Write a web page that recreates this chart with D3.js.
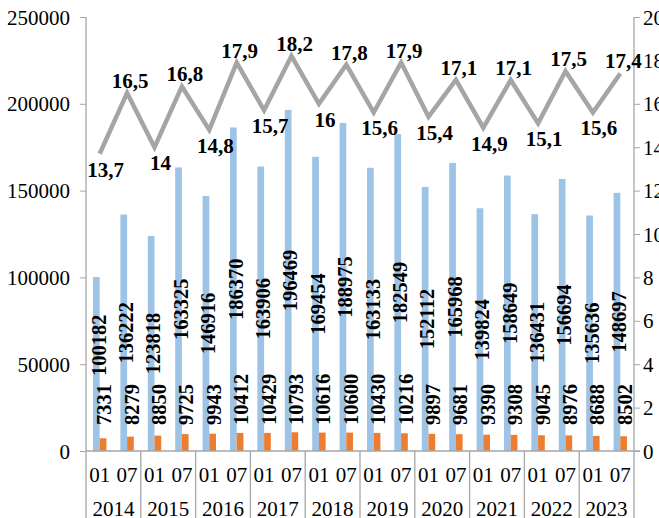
<!DOCTYPE html>
<html>
<head>
<meta charset="utf-8">
<script src="https://cdn.jsdelivr.net/npm/d3@7"></script>
<style>
  html, body { margin: 0; padding: 0; background: #fff; }
  svg { display: block; }
</style>
</head>
<body>
<svg id="chart" width="659" height="518"></svg>
<script>
const years = ["2014","2015","2016","2017","2018","2019","2020","2021","2022","2023"];
const months = ["01","07"];
const blueValues = [100182,136222,123818,163325,146916,186370,163906,196469,169454,188975,163133,182549,152112,165968,139824,158649,136431,156694,135636,148697];
const orangeValues = [7331,8279,8850,9725,9943,10412,10429,10793,10616,10600,10430,10216,9897,9681,9390,9308,9045,8976,8688,8502];
const lineValues = [13.7,16.5,14,16.8,14.8,17.9,15.7,18.2,16,17.8,15.6,17.9,15.4,17.1,14.9,17.1,15.1,17.5,15.6,17.4];
const leftTicks = [0,50000,100000,150000,200000,250000];
const rightTicks = [0,2,4,6,8,10,12,14,16,18,20];

const categories = [];
years.forEach(y => months.forEach(m => categories.push({year: y, month: m})));

const FONT = "'Liberation Serif', 'Times New Roman', Times, serif";
const svg = d3.select("#chart").attr("font-family", FONT);
const L = 86, R = 634, T = 17, B = 451, H = 518;
const axisColor = "#a6a6a6";
const fs = 21;
const fsBar = 20.5;

function styleText(sel, bold, size) {
  sel.style("font-family", FONT).style("font-size", (size || fs) + "px").style("fill", "#000")
     .style("font-weight", bold ? "bold" : "normal");
  return sel;
}

const x = d3.scaleBand().domain(d3.range(categories.length)).range([L, R]).padding(0);
const bw = x.bandwidth();
const x1 = d3.scaleBand().domain(["b","o"]).range([bw * 0.255, bw * 0.745]).padding(0);
const yL = d3.scaleLinear().domain([0, 250000]).range([B, T]);
const yR = d3.scaleLinear().domain([0, 20]).range([B, T]);

// Bars
svg.append("g").selectAll("rect").data(blueValues).join("rect")
  .attr("x", (d, i) => x(i) + x1("b"))
  .attr("y", d => yL(d))
  .attr("width", x1.bandwidth())
  .attr("height", d => yL(0) - yL(d))
  .attr("fill", "#9dc3e6");
svg.append("g").selectAll("rect").data(orangeValues).join("rect")
  .attr("x", (d, i) => x(i) + x1("o"))
  .attr("y", d => yL(d))
  .attr("width", x1.bandwidth())
  .attr("height", d => yL(0) - yL(d))
  .attr("fill", "#ed7d31");

// Left axis
const gL = svg.append("g").attr("transform", `translate(${L},0)`)
  .call(d3.axisLeft(yL).tickValues(leftTicks).tickSize(6).tickPadding(10).tickFormat(d3.format("d")));
gL.attr("font-family", FONT);
gL.select(".domain").remove();
gL.selectAll("line").attr("stroke", axisColor);
styleText(gL.selectAll("text"), false).attr("dy", "0.34em");

// Right axis
const gR = svg.append("g").attr("transform", `translate(${R},0)`)
  .call(d3.axisRight(yR).tickValues(rightTicks).tickSize(6).tickPadding(3).tickFormat(d3.format("d")));
gR.attr("font-family", FONT);
gR.select(".domain").remove();
gR.selectAll("line").attr("stroke", axisColor);
styleText(gR.selectAll("text"), false).attr("dy", "0.34em");

// Axis lines
svg.append("line").attr("x1", L).attr("x2", L).attr("y1", T).attr("y2", H).attr("stroke", axisColor).attr("stroke-width", 1.3);
svg.append("line").attr("x1", R).attr("x2", R).attr("y1", T).attr("y2", H).attr("stroke", axisColor).attr("stroke-width", 1.3);
svg.append("line").attr("x1", L).attr("x2", R + 6).attr("y1", B).attr("y2", B).attr("stroke", axisColor).attr("stroke-width", 1.3);

// Year separators and year labels
years.forEach((yr, k) => {
  if (k > 0) {
    svg.append("line").attr("x1", x(k * 2)).attr("x2", x(k * 2)).attr("y1", B).attr("y2", H)
      .attr("stroke", axisColor).attr("stroke-width", 1.3);
  }
  styleText(svg.append("text").attr("x", x(k * 2) + bw).attr("y", 516).attr("text-anchor", "middle"), false)
    .text(yr);
});
// Month labels
styleText(svg.append("g").selectAll("text").data(categories).join("text")
  .attr("x", (d, i) => x(i) + bw / 2)
  .attr("y", 482)
  .attr("text-anchor", "middle"), false)
  .text(d => d.month);

// Line
const line = d3.line().x((d, i) => x(i) + bw / 2).y(d => yR(d));
svg.append("path").datum(lineValues).attr("d", line)
  .attr("fill", "none").attr("stroke", "#a5a5a5").attr("stroke-width", 4.5).attr("stroke-linejoin", "miter");

// Line labels
styleText(svg.append("g").selectAll("text").data(lineValues).join("text")
  .attr("x", (d, i) => x(i) + bw / 2 + (i % 2 === 0 ? 6 : 3))
  .attr("y", (d, i) => i % 2 === 1 ? yR(d) - 5 : yR(d) + 23)
  .attr("text-anchor", "middle"), true)
  .text(d => String(d).replace(".", ","));

// Orange bar labels (rotated, start above bar)
const orangeStart = yL(0) - 26;
const oLabels = styleText(svg.append("g").selectAll("text").data(orangeValues).join("text")
  .attr("transform", (d, i) => `translate(${x(i) + x1("o") + x1.bandwidth() / 2 + 1},${orangeStart}) rotate(-90)`)
  .attr("dy", "0.35em"), true, fsBar)
  .text(d => d);

// Blue bar labels (rotated, centered at bar middle, avoid orange labels)
const oTops = [];
oLabels.each(function () { oTops.push(orangeStart - this.getComputedTextLength()); });
styleText(svg.append("g").selectAll("text").data(blueValues).join("text")
  .attr("dy", "0.35em"), true, fsBar)
  .text(d => d)
  .each(function (d, i) {
    const len = this.getComputedTextLength();
    const mid = (yL(d) + yL(0)) / 2;
    const bottom = Math.min(mid + len / 2, oTops[i] - 8);
    d3.select(this).attr("transform", `translate(${x(i) + x1("b") + x1.bandwidth() / 2 + 2},${bottom}) rotate(-90)`);
  });
</script>
</body>
</html>
